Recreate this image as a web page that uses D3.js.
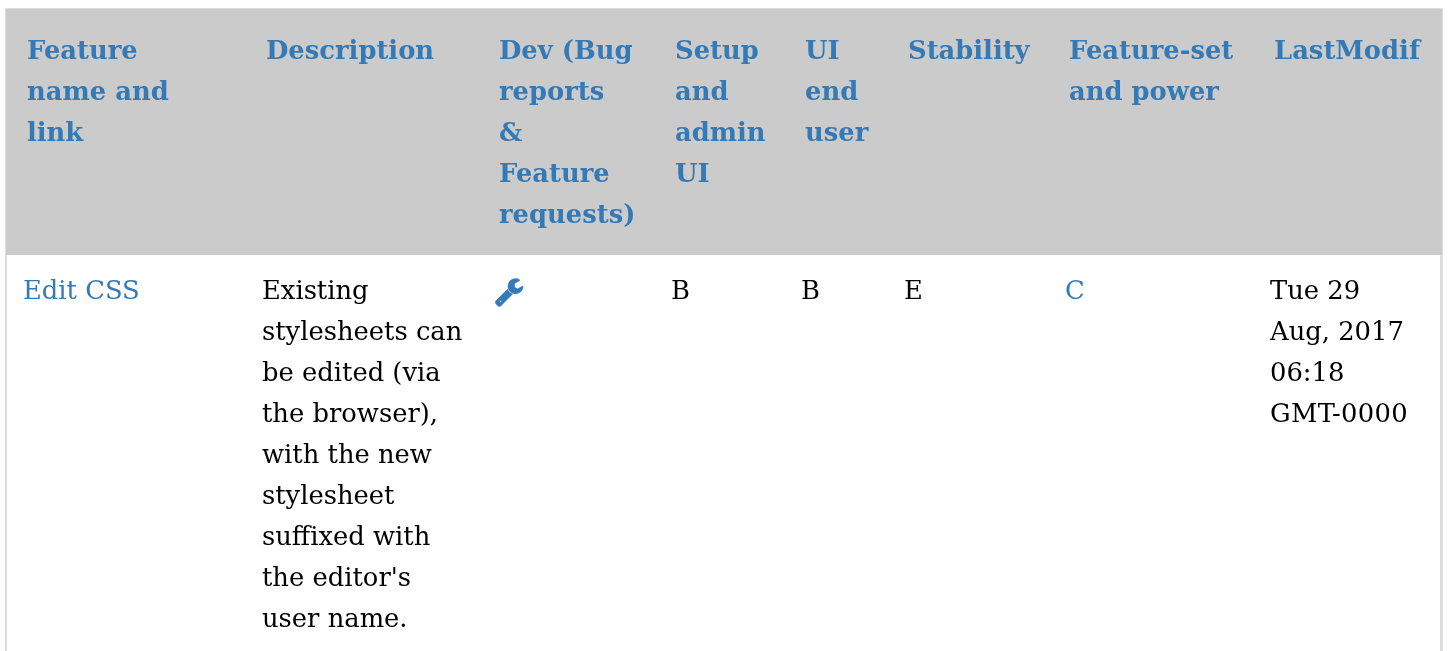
<!DOCTYPE html>
<html><head><meta charset="utf-8">
<script src="https://cdnjs.cloudflare.com/ajax/libs/d3/7.8.5/d3.min.js"></script>
<style>html,body{margin:0;padding:0;background:#fff;overflow:hidden}svg{display:block}
text{font-family:"DejaVu Serif";font-size:25.8px;filter:blur(0.35px)}</style></head><body>
<script>
const headers = [["Feature","name and","link"],["Description"],["Dev (Bug","reports","&","Feature","requests)"],["Setup","and","admin","UI"],["UI","end","user"],["Stability"],["Feature-set","and power"],["LastModif"]];
const cells = [["Edit CSS"],["Existing","stylesheets can","be edited (via","the browser),","with the new","stylesheet","suffixed with","the editor's","user name."],[],["B"],["B"],["E"],["C"],["Tue 29","Aug, 2017","06:18","GMT-0000"]];
const linkCols = [0,6];
const columnLefts = [23,262,495,671,801,904,1065,1270];
const headerInset = 4;
const blue = "#337ab7";
const wrench = "M448 1472q0-26-19-45t-45-19-45 19-19 45 19 45 45 19 45-19 19-45zm644-420l-682 682q-37 37-90 37-52 0-91-37l-106-108q-38-36-38-90 0-53 38-91l681-681q39 98 114.5 173.5t173.5 114.5zm634-435q0 39-23 106-47 134-164.5 217.5t-258.5 83.5q-185 0-316.5-131.5t-131.5-316.5 131.5-316.5 316.5-131.5q58 0 121.5 16.5t107.5 46.5q16 11 16 28t-16 28l-293 169v224l193 107q5-3 79-48.5t135.5-81 70.5-35.5q15 0 23.5 10t8.5 25z";
const svg = d3.select("body").append("svg").attr("width",1448).attr("height",651);
const col = d3.scaleOrdinal().domain(d3.range(8)).range(columnLefts);
const line = d3.scaleLinear().domain([0,1]).range([0,41.1]);
svg.append("rect").attr("x",5).attr("y",8).attr("width",1438).attr("height",643).attr("fill","#ddd");
svg.append("rect").attr("x",7).attr("y",255).attr("width",1433).attr("height",396).attr("fill","#fff");
svg.append("rect").attr("x",6).attr("y",9).attr("width",1436).attr("height",246).attr("fill","#cbcbcb");
const hg = svg.selectAll("g.h").data(headers).join("g").attr("class","h")
  .attr("transform",(d,i)=>`translate(${col(i)+headerInset},59)`);
hg.selectAll("text").data(d=>d).join("text").attr("y",(d,i)=>line(i)).attr("fill",blue).style("font-weight","bold").text(d=>d);
const bg = svg.selectAll("g.b").data(cells).join("g").attr("class","b")
  .attr("transform",(d,i)=>`translate(${col(i)},298.5)`);
bg.selectAll("text").data(d=>d).join("text").attr("y",(d,i)=>line(i)).text(d=>d)
  .style("letter-spacing",d=>d==="GMT-0000"?"0.35px":null);
bg.filter((d,i)=>linkCols.includes(i)).selectAll("text").attr("fill",blue);
svg.append("path").attr("d",wrench).attr("fill",blue).attr("stroke",blue).attr("stroke-width",45)
  .attr("transform",`translate(${col(2)-1},276.5) scale(0.0168)`);
</script></body></html>
